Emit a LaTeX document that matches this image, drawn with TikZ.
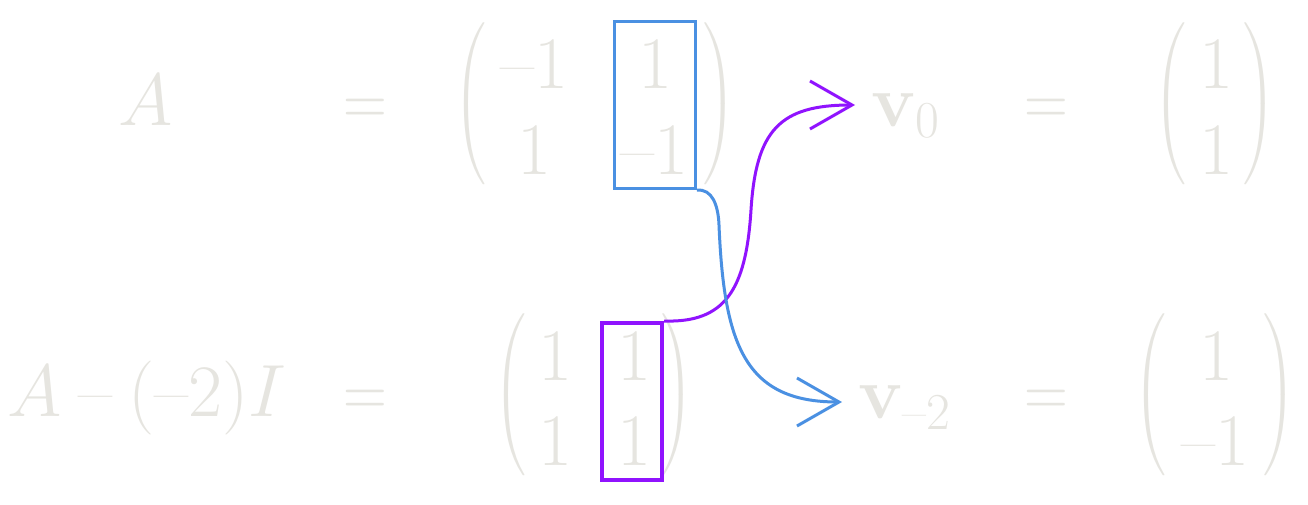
\RequirePackage{fix-cm}
\documentclass[tikz,border=0pt]{standalone}
\usepackage{amsmath}
\usepackage{graphicx}
\usetikzlibrary{arrows.meta,calc}
\definecolor{txtgray}{RGB}{230,229,224}
\definecolor{bblue}{HTML}{4A90E2}
\definecolor{ppurple}{HTML}{9013FE}
\newcommand{\dm}{\text{\textendash}}
\newcommand{\binm}{\mathbin{\text{\textendash}}}
\newcommand{\eqsign}{\scalebox{0.82}[1]{$=$}}
\newcommand{\lpar}{\scalebox{0.75}[0.905]{$\nulldelimiterspace=0pt\left(\vcenter to 88pt{}\right.$}}
\newcommand{\rpar}{\scalebox{0.75}[0.905]{$\nulldelimiterspace=0pt\left.\vcenter to 88pt{}\right)$}}
\begin{document}
\begin{tikzpicture}[x=0.5pt,y=-0.5pt,
  txt/.style={text=txtgray, inner sep=0pt, font=\fontsize{37}{44}\selectfont, anchor=base},
  par/.style={text=txtgray, inner sep=0pt, font=\fontsize{37}{44}\selectfont, anchor=center},
  selbox/.style={inner sep=0pt},
  conn/.style={line width=1.5pt, -{Straight Barb[length=21pt,width=24pt]}}]
\fill[white] (0,0) rectangle (1308,504);
\useasboundingbox (0,0) rectangle (1308,504);
% top row
\node[txt] (A1) at (146,125) {$A$};
\node[txt] (eq1) at (365,125) {\eqsign};
\node[par] (lp1) at (470,103.5) {\lpar};
\node[txt] (m11) at (534,88) {$\dm1$};
\node[txt] (m12) at (655,88) {$1$};
\node[txt] (m21) at (534,174) {$1$};
\node[txt] (m22) at (654,174) {$\dm1$};
\node[par] (rp1) at (720,103.5) {\rpar};
\node[txt, anchor=base west] (v0) at (871,126) {$\mathbf{v}_0$};
\node[txt] (eq2) at (1046,125) {\eqsign};
\node[par] (lp2) at (1170,103.5) {\lpar};
\node[txt] (r11) at (1216,88) {$1$};
\node[txt] (r21) at (1216,174) {$1$};
\node[par] (rp2) at (1260,103.5) {\rpar};
% bottom row
\node[txt] (A2) at (147,416) {$A \binm (\dm2)I$};
\node[txt] (eq3) at (365,416) {\eqsign};
\node[par] (lp3) at (510,395) {\lpar};
\node[txt] (n11) at (555,380) {$1$};
\node[txt] (n12) at (634,380) {$1$};
\node[txt] (n21) at (555,465) {$1$};
\node[txt] (n22) at (634,465) {$1$};
\node[par] (rp3) at (678,395) {\rpar};
\node[txt, anchor=base west] (v2) at (858,418) {$\mathbf{v}_{\dm2}$};
\node[txt] (eq4) at (1046,416) {\eqsign};
\node[par] (lp4) at (1150,395) {\lpar};
\node[txt] (s11) at (1216,380) {$1$};
\node[txt] (s21) at (1215,465) {$\dm1$};
\node[par] (rp4) at (1280,395) {\rpar};
% boxes
\node[selbox, draw=bblue, line width=1.7pt, minimum width=40.5pt, minimum height=83.5pt] (bbox) at (654.75,105) {};
\node[selbox, draw=ppurple, line width=2pt, minimum width=30pt, minimum height=78.5pt] (pbox) at (632,401.5) {};
% connectors
\coordinate (v0in) at ($(v0.base west)+(-16,-21)$);
\coordinate (v2in) at ($(v2.base west)+(-16,-16)$);
\coordinate (pmid) at (751,210);
\coordinate (bmid) at (719,225);
\draw[conn, ppurple] (pbox.north east) .. controls (725,323) and (746,290) .. (pmid) .. controls (756,130) and (780,105) .. (v0in);
\draw[conn, bblue] (bbox.south east) .. controls (712,188.5) and (718.2,205) .. (bmid) .. controls (724,345) and (745,402) .. (v2in);
\end{tikzpicture}
\end{document}
